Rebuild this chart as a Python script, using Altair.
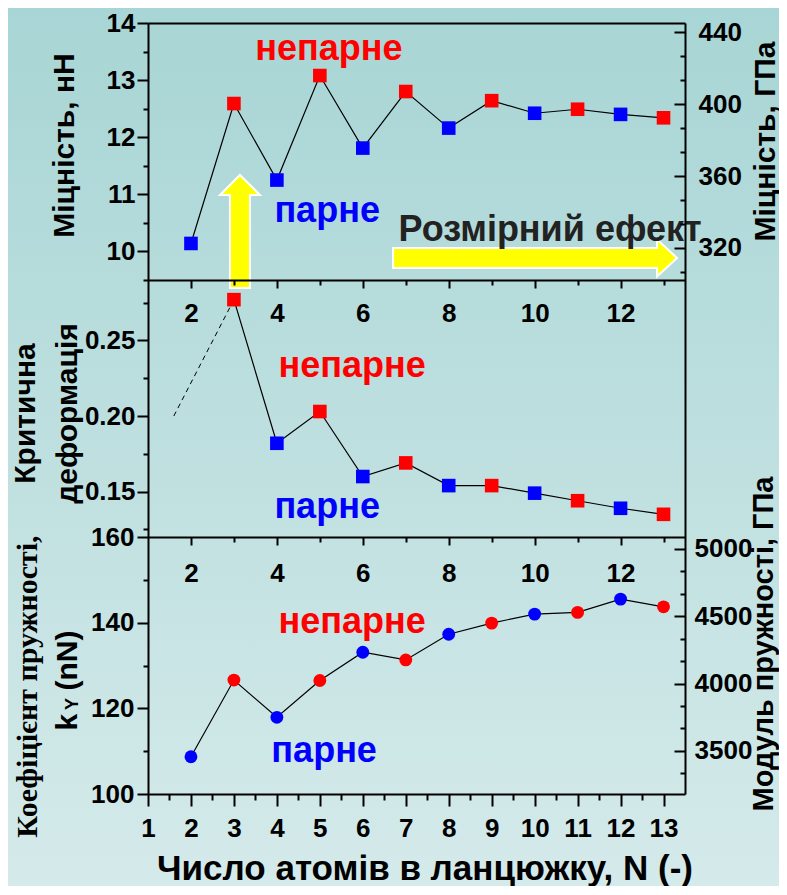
import altair as alt
import pandas as pd

# ---------------- data ----------------
N_all = [2, 3, 4, 5, 6, 7, 8, 9, 10, 11, 12, 13]
strength_nN = [10.14, 12.59, 11.25, 13.08, 11.81, 12.80, 12.16, 12.64, 12.42, 12.49, 12.40, 12.34]

N_strain = [3, 4, 5, 6, 7, 8, 9, 10, 11, 12, 13]
crit_strain = [0.277, 0.182, 0.203, 0.160, 0.169, 0.154, 0.154, 0.149, 0.144, 0.139, 0.135]

stiffness_nN = [108.7, 126.6, 117.9, 126.5, 133.1, 131.3, 137.3, 139.9, 142.0, 142.4, 145.5, 143.7]

dash_N = [1.6, 3]
dash_strain = [0.200, 0.277]

# axis tick values
x_even = [2, 4, 6, 8, 10, 12]
x_odd = [3, 5, 7, 9, 11, 13]
x_int = [1, 2, 3, 4, 5, 6, 7, 8, 9, 10, 11, 12, 13]
x_half = [1.5, 2.5, 3.5, 4.5, 5.5, 6.5, 7.5, 8.5, 9.5, 10.5, 11.5, 12.5]
s_major = [10, 11, 12, 13, 14]
s_minor = [9.5, 10.5, 11.5, 12.5, 13.5]
gpa_major = [320, 360, 400, 440]
gpa_minor = [306.67, 333.33, 346.67, 373.33, 386.67, 413.33, 426.67]
e_major = [0.15, 0.20, 0.25]
e_minor = [0.125, 0.175, 0.225, 0.275]
k_major = [100, 120, 140, 160]
k_minor = [110, 130, 150]
mod_major = [3500, 4000, 4500, 5000]
mod_minor = [3333.3, 3666.7, 3833.3, 4166.7, 4333.3, 4666.7, 4833.3]

# annotation labels (positions in data units)
labels_p1 = ["непарне", "парне"]
labels_p1_x = [5.21, 5.17]
labels_p1_y = [13.36, 10.52]
labels_p2 = ["непарне", "парне"]
labels_p2_x = [5.75, 5.17]
labels_p2_y = [0.2258, 0.1326]
labels_p3 = ["непарне", "парне"]
labels_p3_x = [5.75, 5.10]
labels_p3_y = [137.6, 107.5]
size_effect_text = ["Розмірний ефект"]
size_effect_x = [10.36]
size_effect_y = [10.18]
arrow_h_x, arrow_h_y = [10.01], [9.885]
arrow_v_x, arrow_v_y = [3.14], [10.35]

# ---------------- layout ----------------
FONT = "Liberation Sans"
W, H = 537, 771
P1, P2 = 257, 514
LABEL_SIZE = 26

XS = alt.Scale(domain=[1, 13.5], nice=False, zero=False)
Y1 = alt.Scale(domain=[9.5, 14], range=[P1, 0], nice=False, zero=False)
Y1R = alt.Scale(domain=[302.1, 445.2], range=[P1, 0], nice=False, zero=False)
Y2 = alt.Scale(domain=[0.12, 0.29], range=[P2, P1], nice=False, zero=False)
Y3 = alt.Scale(domain=[100, 160], range=[H, P2], nice=False, zero=False)
Y3R = alt.Scale(domain=[3180, 5088], range=[H, P2], nice=False, zero=False)
YF = alt.Scale(domain=[0, 1], range=[H, 0], nice=False, zero=False)

parity_scale = alt.Scale(domain=["непарне", "парне"], range=["#ff0000", "#0000ff"])


def parity(ns):
    return ["непарне" if n % 2 else "парне" for n in ns]


def axis(orient, values=None, tick=0, labels=False, pad=0, offset=0, domain=False,
         fmt=None, title=None, **t):
    kw = dict(orient=orient, offset=offset, grid=False, domain=domain, zindex=2,
              ticks=tick > 0, labels=labels, labelFlush=False)
    if values is not None:
        kw["values"] = values
    if tick > 0:
        kw.update(tickSize=tick, tickWidth=2, tickColor="black")
    if labels:
        kw.update(labelFont=FONT, labelFontSize=LABEL_SIZE, labelFontWeight="bold",
                  labelColor="black", labelPadding=pad, labelOverlap=False)
    if domain:
        kw.update(domainColor="black", domainWidth=2)
    if fmt:
        kw["format"] = fmt
    if title is not None:
        base = dict(title=title, titleFont=FONT, titleFontSize=30, titleFontWeight="bold",
                    titleColor="black", titleAlign="center", titleBaseline="middle",
                    titleAngle=270)
        base.update(t)
        kw.update(base)
    else:
        kw["title"] = None
    return alt.Axis(**kw)


df1 = pd.DataFrame({"N": N_all, "v": strength_nN, "p": parity(N_all)})
df2 = pd.DataFrame({"N": N_strain, "v": crit_strain, "p": parity(N_strain)})
df3 = pd.DataFrame({"N": N_all, "v": stiffness_nN, "p": parity(N_all)})
dfd = pd.DataFrame({"N": dash_N, "v": dash_strain})
one = pd.DataFrame({"a": [0]})

color = alt.Color("p:N", scale=parity_scale, legend=None)

# background gradient
bg = alt.Chart(one).mark_rect(
    color=alt.LinearGradient(
        gradient="linear",
        stops=[alt.GradientStop(color="#a8d5d5", offset=0),
               alt.GradientStop(color="#d5eaea", offset=1)],
        x1=0, x2=0, y1=0, y2=1)
).encode(x=alt.value(-140), x2=alt.value(W + 94), y=alt.value(-15), y2=alt.value(H + 92))

# ---- panel 1: strength ----
p1_line = alt.Chart(df1).mark_line(color="black", strokeWidth=1.2).encode(
    x=alt.X("N:Q", scale=XS, axis=axis("bottom", x_odd, tick=5, offset=-(H - P1))),
    y=alt.Y("v:Q", scale=Y1, axis=axis("left", s_minor, tick=5)),
)
p1_pts = alt.Chart(df1).mark_square(size=185, opacity=1).encode(
    x=alt.X("N:Q", scale=XS, axis=axis("bottom", x_even, tick=8, labels=True, pad=12,
                                        offset=-(H - P1), domain=True)),
    y=alt.Y("v:Q", scale=Y1, axis=axis("left", s_major, tick=11, labels=True, pad=2,
                                        title="Міцність, нН", titleX=-84, titleY=122)),
    color=color,
)
p1_right = alt.Chart(pd.DataFrame({"g": gpa_major})).mark_point(opacity=0).encode(
    y=alt.Y("g:Q", scale=Y1R, axis=axis("right", gpa_major, tick=11, labels=True, pad=13,
                                         offset=-11, title="Міцність, ГПа",
                                         titleX=91, titleY=118)),
)
p1_right_m = alt.Chart(pd.DataFrame({"g": gpa_minor})).mark_point(opacity=0).encode(
    y=alt.Y("g:Q", scale=Y1R, axis=axis("right", gpa_minor, tick=5, offset=-5)),
)

# ---- panel 2: critical strain ----
p2_line = alt.Chart(df2).mark_line(color="black", strokeWidth=1.2).encode(
    x=alt.X("N:Q", scale=XS, axis=axis("bottom", x_odd, tick=5, offset=-(H - P2))),
    y=alt.Y("v:Q", scale=Y2, axis=axis("left", e_minor, tick=5)),
)
p2_pts = alt.Chart(df2).mark_square(size=185, opacity=1).encode(
    x=alt.X("N:Q", scale=XS, axis=axis("bottom", x_even, tick=8, labels=True, pad=15,
                                        offset=-(H - P2), domain=True)),
    y=alt.Y("v:Q", scale=Y2, axis=axis("left", e_major, tick=11, labels=True, pad=2, fmt=".2f",
                                        title=["Критична", "деформація"], titleX=-123,
                                        titleY=390, titleLineHeight=42)),
    color=color,
)
p2_dash = alt.Chart(dfd).mark_line(color="black", strokeWidth=1, strokeDash=[5, 4]).encode(
    x=alt.X("N:Q", scale=XS, axis=axis("top", domain=True)),
    y=alt.Y("v:Q", scale=Y2, axis=None),
)

# ---- panel 3: stiffness ----
p3_line = alt.Chart(df3).mark_line(color="black", strokeWidth=1.2).encode(
    x=alt.X("N:Q", scale=XS, axis=axis("bottom", x_half, tick=6)),
    y=alt.Y("v:Q", scale=Y3, axis=axis("left", k_minor, tick=5,
                                        title="k\u2002 (nN)", titleX=-81, titleY=657)),
)
p3_pts = alt.Chart(df3).mark_circle(size=165, opacity=1).encode(
    x=alt.X("N:Q", scale=XS, axis=axis("bottom", x_int, tick=12, labels=True, pad=9, domain=True,
                                        title="Число атомів в ланцюжку, N (-)", titleAngle=0,
                                        titleFontSize=35, titleBaseline="alphabetic",
                                        titleX=276.5, titleY=85)),
    y=alt.Y("v:Q", scale=Y3, axis=axis("left", k_major, tick=11, labels=True, pad=3,
                                        title="Коефіцієнт пружності,",
                                        titleFont="Liberation Serif", titleX=-121, titleY=663)),
    color=color,
)
p3_right = alt.Chart(pd.DataFrame({"g": mod_major})).mark_point(opacity=0).encode(
    y=alt.Y("g:Q", scale=Y3R, axis=axis("right", mod_major, tick=11, labels=True, pad=9,
                                         offset=-11, fmt="d", title="Модуль пружності, ГПа",
                                         titleFontSize=29, titleX=89, titleY=620.5)),
)
p3_right_m = alt.Chart(pd.DataFrame({"g": mod_minor})).mark_point(opacity=0).encode(
    y=alt.Y("g:Q", scale=Y3R, axis=axis("right", mod_minor, tick=5, offset=-5)),
)

# ---- frame ----
frame_l = alt.Chart(pd.DataFrame({"f": [0, 1]})).mark_point(opacity=0).encode(
    y=alt.Y("f:Q", scale=YF, axis=axis("left", domain=True)))
frame_r = alt.Chart(pd.DataFrame({"f": [0, 1]})).mark_point(opacity=0).encode(
    y=alt.Y("f:Q", scale=YF, axis=axis("right", domain=True)))


# ---- annotations ----
def label_layer(texts, xs, ys, yscale):
    d = pd.DataFrame({"x": xs, "y": ys, "t": texts})
    return alt.Chart(d).mark_text(font=FONT, fontSize=36, fontWeight="bold",
                                  align="center", baseline="alphabetic").encode(
        x=alt.X("x:Q", scale=XS, axis=None),
        y=alt.Y("y:Q", scale=yscale, axis=None),
        text="t:N",
        color=alt.Color("t:N", scale=parity_scale, legend=None),
    )


t1 = label_layer(labels_p1, labels_p1_x, labels_p1_y, Y1)
t2 = label_layer(labels_p2, labels_p2_x, labels_p2_y, Y2)
t3 = label_layer(labels_p3, labels_p3_x, labels_p3_y, Y3)

arrow_h_path = ("M -1 -0.0704 L 0.859 -0.0704 L 0.859 -0.130 L 1 0 L 0.859 0.130 "
                "L 0.859 0.0704 L -1 0.0704 Z")
arrow_v_path = ("M 0 -1 L 0.354 -0.646 L 0.177 -0.646 L 0.177 1 L -0.177 1 "
                "L -0.177 -0.646 L -0.354 -0.646 Z")

arrow_h = alt.Chart(pd.DataFrame({"x": arrow_h_x, "y": arrow_h_y})).mark_point(
    shape=arrow_h_path, size=284 * 284, filled=True, fill="#ffff00", fillOpacity=1,
    stroke="white", strokeWidth=2, opacity=1
).encode(x=alt.X("x:Q", scale=XS, axis=None), y=alt.Y("y:Q", scale=Y1, axis=None))

arrow_v = alt.Chart(pd.DataFrame({"x": arrow_v_x, "y": arrow_v_y})).mark_point(
    shape=arrow_v_path, size=113 * 113, filled=True, fill="#ffff00", fillOpacity=1,
    stroke="white", strokeWidth=2, opacity=1
).encode(x=alt.X("x:Q", scale=XS, axis=None), y=alt.Y("y:Q", scale=Y1, axis=None))

effect = alt.Chart(pd.DataFrame({"x": size_effect_x, "y": size_effect_y,
                                 "t": size_effect_text})).mark_text(
    font=FONT, fontSize=36, fontWeight="bold", color="#222222",
    align="center", baseline="alphabetic"
).encode(x=alt.X("x:Q", scale=XS, axis=None), y=alt.Y("y:Q", scale=Y1, axis=None), text="t:N")

sub_y = alt.Chart(one).mark_text(text="Y", angle=270, font=FONT, fontSize=18, fontWeight="bold",
                                 color="black", align="center", baseline="middle").encode(
    x=alt.value(73 - 148), y=alt.value(704 - 23))

chart = alt.layer(
    bg,
    p1_line, p1_pts, p1_right, p1_right_m,
    p2_line, p2_dash, p2_pts,
    p3_line, p3_pts, p3_right, p3_right_m,
    frame_l, frame_r,
    t1, t2, t3, arrow_h, effect, arrow_v, sub_y,
).resolve_scale(
    y="independent", color="independent"
).resolve_axis(
    x="independent", y="independent"
).properties(
    width=W, height=H,
    padding={"left": 140, "top": 15, "right": 94, "bottom": 92},
    autosize=alt.AutoSizeParams(type="none"),
    background="#c0dfdf",
).configure_view(
    strokeOpacity=0
)

chart.save("out.html", embed_options={"renderer": "svg", "actions": False})
